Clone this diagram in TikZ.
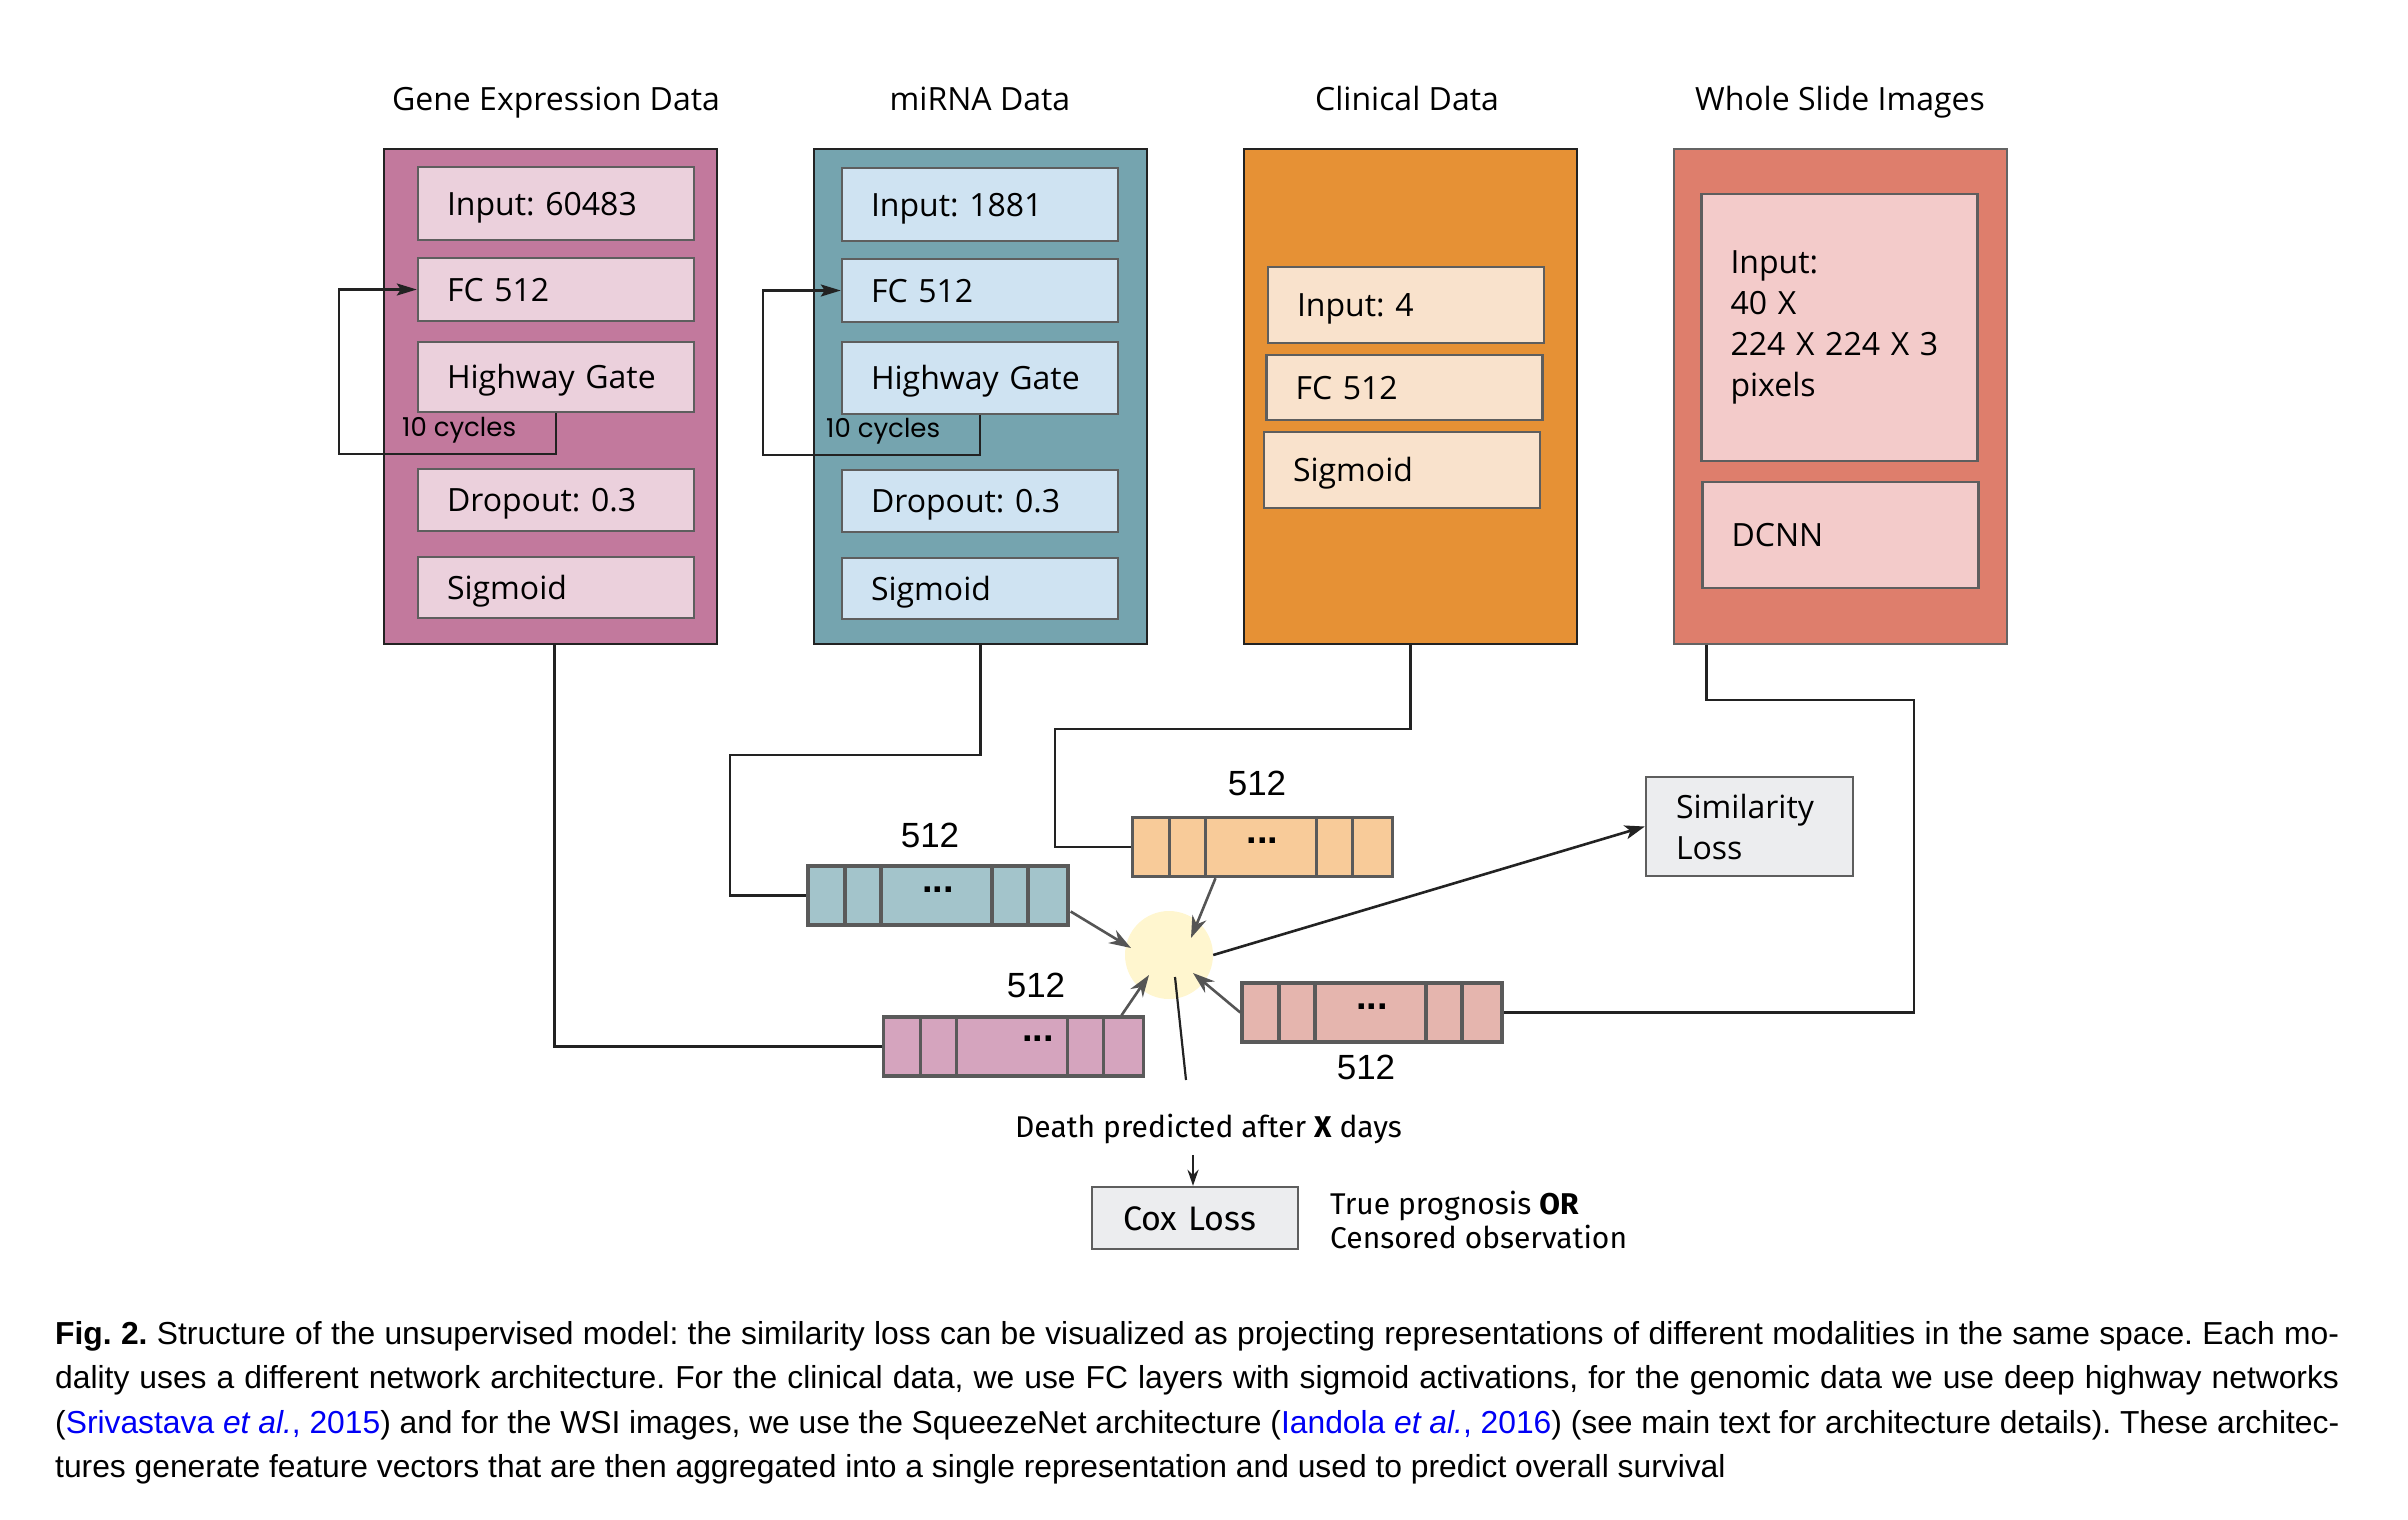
\documentclass[tikz,border=0pt]{standalone}
\usepackage{fontspec}
\setmainfont{Open Sans}
\newfontfamily\capfont{Liberation Sans}
\newfontfamily\lossfont{Fira Sans}
\newfontfamily\cycfont{Poppins}
\usetikzlibrary{arrows.meta,calc}

\definecolor{geouter}{RGB}{194,121,157}
\definecolor{geinner}{RGB}{235,208,220}
\definecolor{miouter}{RGB}{117,164,175}
\definecolor{miinner}{RGB}{207,227,242}
\definecolor{clouter}{RGB}{230,145,53}
\definecolor{clinner}{RGB}{249,226,204}
\definecolor{wsouter}{RGB}{222,126,108}
\definecolor{wsinner}{RGB}{243,203,202}
\definecolor{gevec}{RGB}{213,164,190}
\definecolor{mivec}{RGB}{163,196,203}
\definecolor{clvec}{RGB}{248,203,153}
\definecolor{wsvec}{RGB}{229,181,174}
\definecolor{lossfill}{RGB}{236,237,239}
\definecolor{fusefill}{RGB}{255,246,207}
\definecolor{boxline}{RGB}{34,34,34}
\definecolor{wsline}{RGB}{100,100,100}
\definecolor{layerline}{RGB}{94,94,94}
\definecolor{vecline}{RGB}{90,90,90}
\definecolor{arrowgrey}{RGB}{85,85,85}
\definecolor{citeblue}{RGB}{0,0,245}

\newcommand{\lblfont}{\fontsize{32}{41}\selectfont}
\newcommand{\cycfnt}{\cycfont\fontsize{26}{30}\selectfont}
\newcommand{\numfnt}{\capfont\fontsize{35}{40}\selectfont}
\newcommand{\dotfnt}{\capfont\bfseries\fontsize{38}{38}\selectfont}
\newcommand{\predfnt}{\lossfont\fontsize{30}{34}\selectfont}
\newcommand{\coxfnt}{\lossfont\fontsize{34}{40}\selectfont}
\newcommand{\capfnt}{\capfont\fontsize{31.8}{44.5}\selectfont}
\newcommand{\celldots}{\raisebox{12pt}{...}}

\tikzset{
  modtitle/.style={font=\lblfont, inner sep=0pt, anchor=base},
  modbox/.style={draw=boxline, line width=2.6pt, minimum width=333pt, minimum height=495pt, inner sep=0pt},
  netlayer/.style={draw=layerline, line width=2.4pt, inner xsep=29pt, inner ysep=0pt, text width=218pt, align=left, font=\lblfont},
  onelayer/.style={netlayer, text height=23pt, text depth=0pt},
  featvec/.style={draw=vecline, line width=3.4pt, minimum width=260pt, minimum height=59pt, inner sep=0pt, font=\dotfnt},
  divider/.style={draw=vecline, line width=3.4pt},
  wire/.style={draw=boxline, line width=2.6pt},
  feed/.style={draw=arrowgrey, line width=2.6pt, -{Stealth[length=22pt,width=15pt]}},
  lossbox/.style={draw=layerline, fill=lossfill, line width=2.4pt, inner ysep=0pt, align=left},
  dimlabel/.style={font=\numfnt, inner sep=0pt}
}

\begin{document}
\frenchspacing
\begin{tikzpicture}[x=1pt,y=1pt,yscale=-1,xscale=1]
\useasboundingbox (0,0) rectangle (2408,1519);

% Text Node
\node[modtitle] (geTitle) at (556,110) {Gene Expression Data};
\node[modtitle] (miTitle) at (980,110) {miRNA Data};
\node[modtitle] (clTitle) at (1407,110) {Clinical Data};
\node[modtitle] (wsTitle) at (1840,110) {Whole Slide Images};

%Shape: Rectangle [gene expression]
\node[modbox, fill=geouter] (geBox) at (550.5,396.5) {};
\node[onelayer, fill=geinner, minimum height=73pt] (geIn) at (556,203.5) {Input: 60483};
\node[onelayer, fill=geinner, minimum height=63pt] (geFc) at (556,289.5) {FC 512};
\node[onelayer, fill=geinner, minimum height=70pt] (geHw) at (556,377) {Highway Gate};
\node[onelayer, fill=geinner, minimum height=62pt] (geDo) at (556,500) {Dropout: 0.3};
\node[onelayer, fill=geinner, minimum height=61pt] (geSg) at (556,587.5) {Sigmoid};

%Shape: Rectangle [miRNA]
\node[modbox, fill=miouter] (miBox) at (980.5,396.5) {};
\node[onelayer, fill=miinner, minimum height=73pt] (miIn) at (980,204.5) {Input: 1881};
\node[onelayer, fill=miinner, minimum height=63pt] (miFc) at (980,290.5) {FC 512};
\node[onelayer, fill=miinner, minimum height=72pt] (miHw) at (980,378) {Highway Gate};
\node[onelayer, fill=miinner, minimum height=62pt] (miDo) at (980,501) {Dropout: 0.3};
\node[onelayer, fill=miinner, minimum height=61pt] (miSg) at (980,588.5) {Sigmoid};

%Shape: Rectangle [clinical]
\node[modbox, fill=clouter] (clBox) at (1410.5,396.5) {};
\node[onelayer, fill=clinner, minimum height=76pt] (clIn) at (1406,305) {Input: 4};
\node[onelayer, fill=clinner, minimum height=65pt] (clFc) at (1404.5,387.5) {FC 512};
\node[onelayer, fill=clinner, minimum height=76pt] (clSg) at (1402,470) {Sigmoid};

%Shape: Rectangle [slides]
\node[modbox, fill=wsouter, draw=wsline] (wsBox) at (1840.5,396.5) {};
\node[netlayer, fill=wsinner, minimum height=267pt] (wsIn) at (1839.5,327.5) {Input:\\40 X\\224 X 224 X 3\\pixels};
\node[onelayer, fill=wsinner, minimum height=106pt] (wsDn) at (1840.5,535) {DCNN};

%Straight Lines [highway loops]
\coordinate (geLoop) at (339,454);
\coordinate (miLoop) at (763,455);
\draw[wire, -{Stealth[length=20pt,width=12pt,inset=4pt]}] (geHw.south) |- (geLoop) |- (geFc.west);
\draw[wire, -{Stealth[length=20pt,width=12pt,inset=4pt]}] (miHw.south) |- (miLoop) |- (miFc.west);
\node[font=\cycfnt, anchor=west, inner sep=0pt] (geCyc) at (402,430) {10 cycles};
\node[font=\cycfnt, anchor=west, inner sep=0pt] (miCyc) at (826,431) {10 cycles};

%Straight Lines [to feature vectors]
\coordinate (miBend) at (730,755);
\coordinate (clBend) at (1055,729);
\coordinate (wsBend) at (1914,700);
\draw[wire] ([xshift=4pt]geBox.south) |- (1013.5,1046.5);
\draw[wire] (miBox.south) |- (miBend) |- (938,895.5);
\draw[wire] (clBox.south) |- (clBend) |- (1262.5,847);
\draw[wire] ([xshift=34pt]wsBox.south west) |- (wsBend) |- (1372,1012.5);

%Shape: Rectangle [feature vectors]
\node[featvec, fill=mivec] (miVec) at (938,895.5) {\celldots};
\node[featvec, fill=clvec] (clVec) at (1262.5,847) {\celldots};
\node[featvec, fill=gevec] (geVec) at (1013.5,1046.5) {\hspace*{49pt}\raisebox{16pt}{...}};
\node[featvec, fill=wsvec] (wsVec) at (1372,1012.5) {\celldots};
\draw[divider] ([xshift=-93pt]miVec.north) -- ([xshift=-93pt]miVec.south) ([xshift=-57pt]miVec.north) -- ([xshift=-57pt]miVec.south) ([xshift=54pt]miVec.north) -- ([xshift=54pt]miVec.south) ([xshift=90pt]miVec.north) -- ([xshift=90pt]miVec.south);
\draw[divider] ([xshift=-93pt]clVec.north) -- ([xshift=-93pt]clVec.south) ([xshift=-57pt]clVec.north) -- ([xshift=-57pt]clVec.south) ([xshift=54pt]clVec.north) -- ([xshift=54pt]clVec.south) ([xshift=90pt]clVec.north) -- ([xshift=90pt]clVec.south);
\draw[divider] ([xshift=-93pt]geVec.north) -- ([xshift=-93pt]geVec.south) ([xshift=-57pt]geVec.north) -- ([xshift=-57pt]geVec.south) ([xshift=54pt]geVec.north) -- ([xshift=54pt]geVec.south) ([xshift=90pt]geVec.north) -- ([xshift=90pt]geVec.south);
\draw[divider] ([xshift=-93pt]wsVec.north) -- ([xshift=-93pt]wsVec.south) ([xshift=-57pt]wsVec.north) -- ([xshift=-57pt]wsVec.south) ([xshift=54pt]wsVec.north) -- ([xshift=54pt]wsVec.south) ([xshift=90pt]wsVec.north) -- ([xshift=90pt]wsVec.south);

% Text Node
\node[dimlabel] (miDim) at (930,835) {512};
\node[dimlabel] (clDim) at (1257,783) {512};
\node[dimlabel] (geDim) at (1036,985) {512};
\node[dimlabel] (wsDim) at (1366,1067) {512};

%Shape: Circle [fusion]
\node[circle, fill=fusefill, minimum size=88pt, inner sep=0pt] (fusion) at (1169,955) {};
\draw[feed] ($(miVec.east)+(1,16)$) -- ($(fusion)+(-38,-7)$);
\draw[feed] ($(clVec.south)+(-47,0)$) -- ($(fusion)+(22,-17)$);
\draw[feed] ($(geVec.north)+(108,0)$) -- ($(fusion)+(-20,20)$);
\draw[feed] (wsVec.west) -- ($(fusion)+(24,18)$);

%Shape: Rectangle [losses]
\node[lossbox, inner xsep=30pt, text width=147pt, minimum height=99pt, font=\lblfont] (simLoss) at (1749.5,826.5) {Similarity\\Loss};
\draw[wire, -{Stealth[length=20pt,width=14pt,inset=5pt]}] (fusion.east) -- (simLoss.west);

\coordinate (predEnd) at (1186,1080);
\draw[wire, line width=2.2pt] ($(fusion)+(6,22)$) -- (predEnd);
\node[font=\predfnt, inner sep=0pt] (predTxt) at (1208.5,1129) {Death predicted after \textbf{X} days};

\node[lossbox, inner xsep=31pt, text width=144pt, minimum height=62pt, font=\coxfnt, text height=24pt, text depth=0pt] (coxLoss) at (1195,1218) {Cox Loss};
\draw[wire, line width=2.4pt, -{Stealth[length=16pt,width=11pt]}] ($(coxLoss.north)+(-2,-31)$) -- ($(coxLoss.north)+(-2,0)$);
\node[font=\predfnt, align=left, anchor=west, inner sep=0pt] (progTxt) at (1330,1220) {True prognosis \textbf{OR}\\Censored observation};

% Text Node [caption]
\node[font=\capfnt, text width=2284pt, align=justify, anchor=north west, inner sep=0pt] (caption) at (55,1321) {\hyphenpenalty=10000 \textbf{Fig. 2.} Structure of the unsupervised model: the similarity loss can be visualized as projecting representations of different modalities in the same space. Each mo-\linebreak dality uses a different network architecture. For the clinical data, we use FC layers with sigmoid activations, for the genomic data we use deep highway networks\linebreak (\textcolor{citeblue}{Srivastava \textit{et al.}, 2015}) and for the WSI images, we use the SqueezeNet architecture (\textcolor{citeblue}{Iandola \textit{et al.}, 2016}) (see main text for architecture details). These architec-\linebreak tures generate feature vectors that are then aggregated into a single representation and used to predict overall survival};

\end{tikzpicture}
\end{document}
